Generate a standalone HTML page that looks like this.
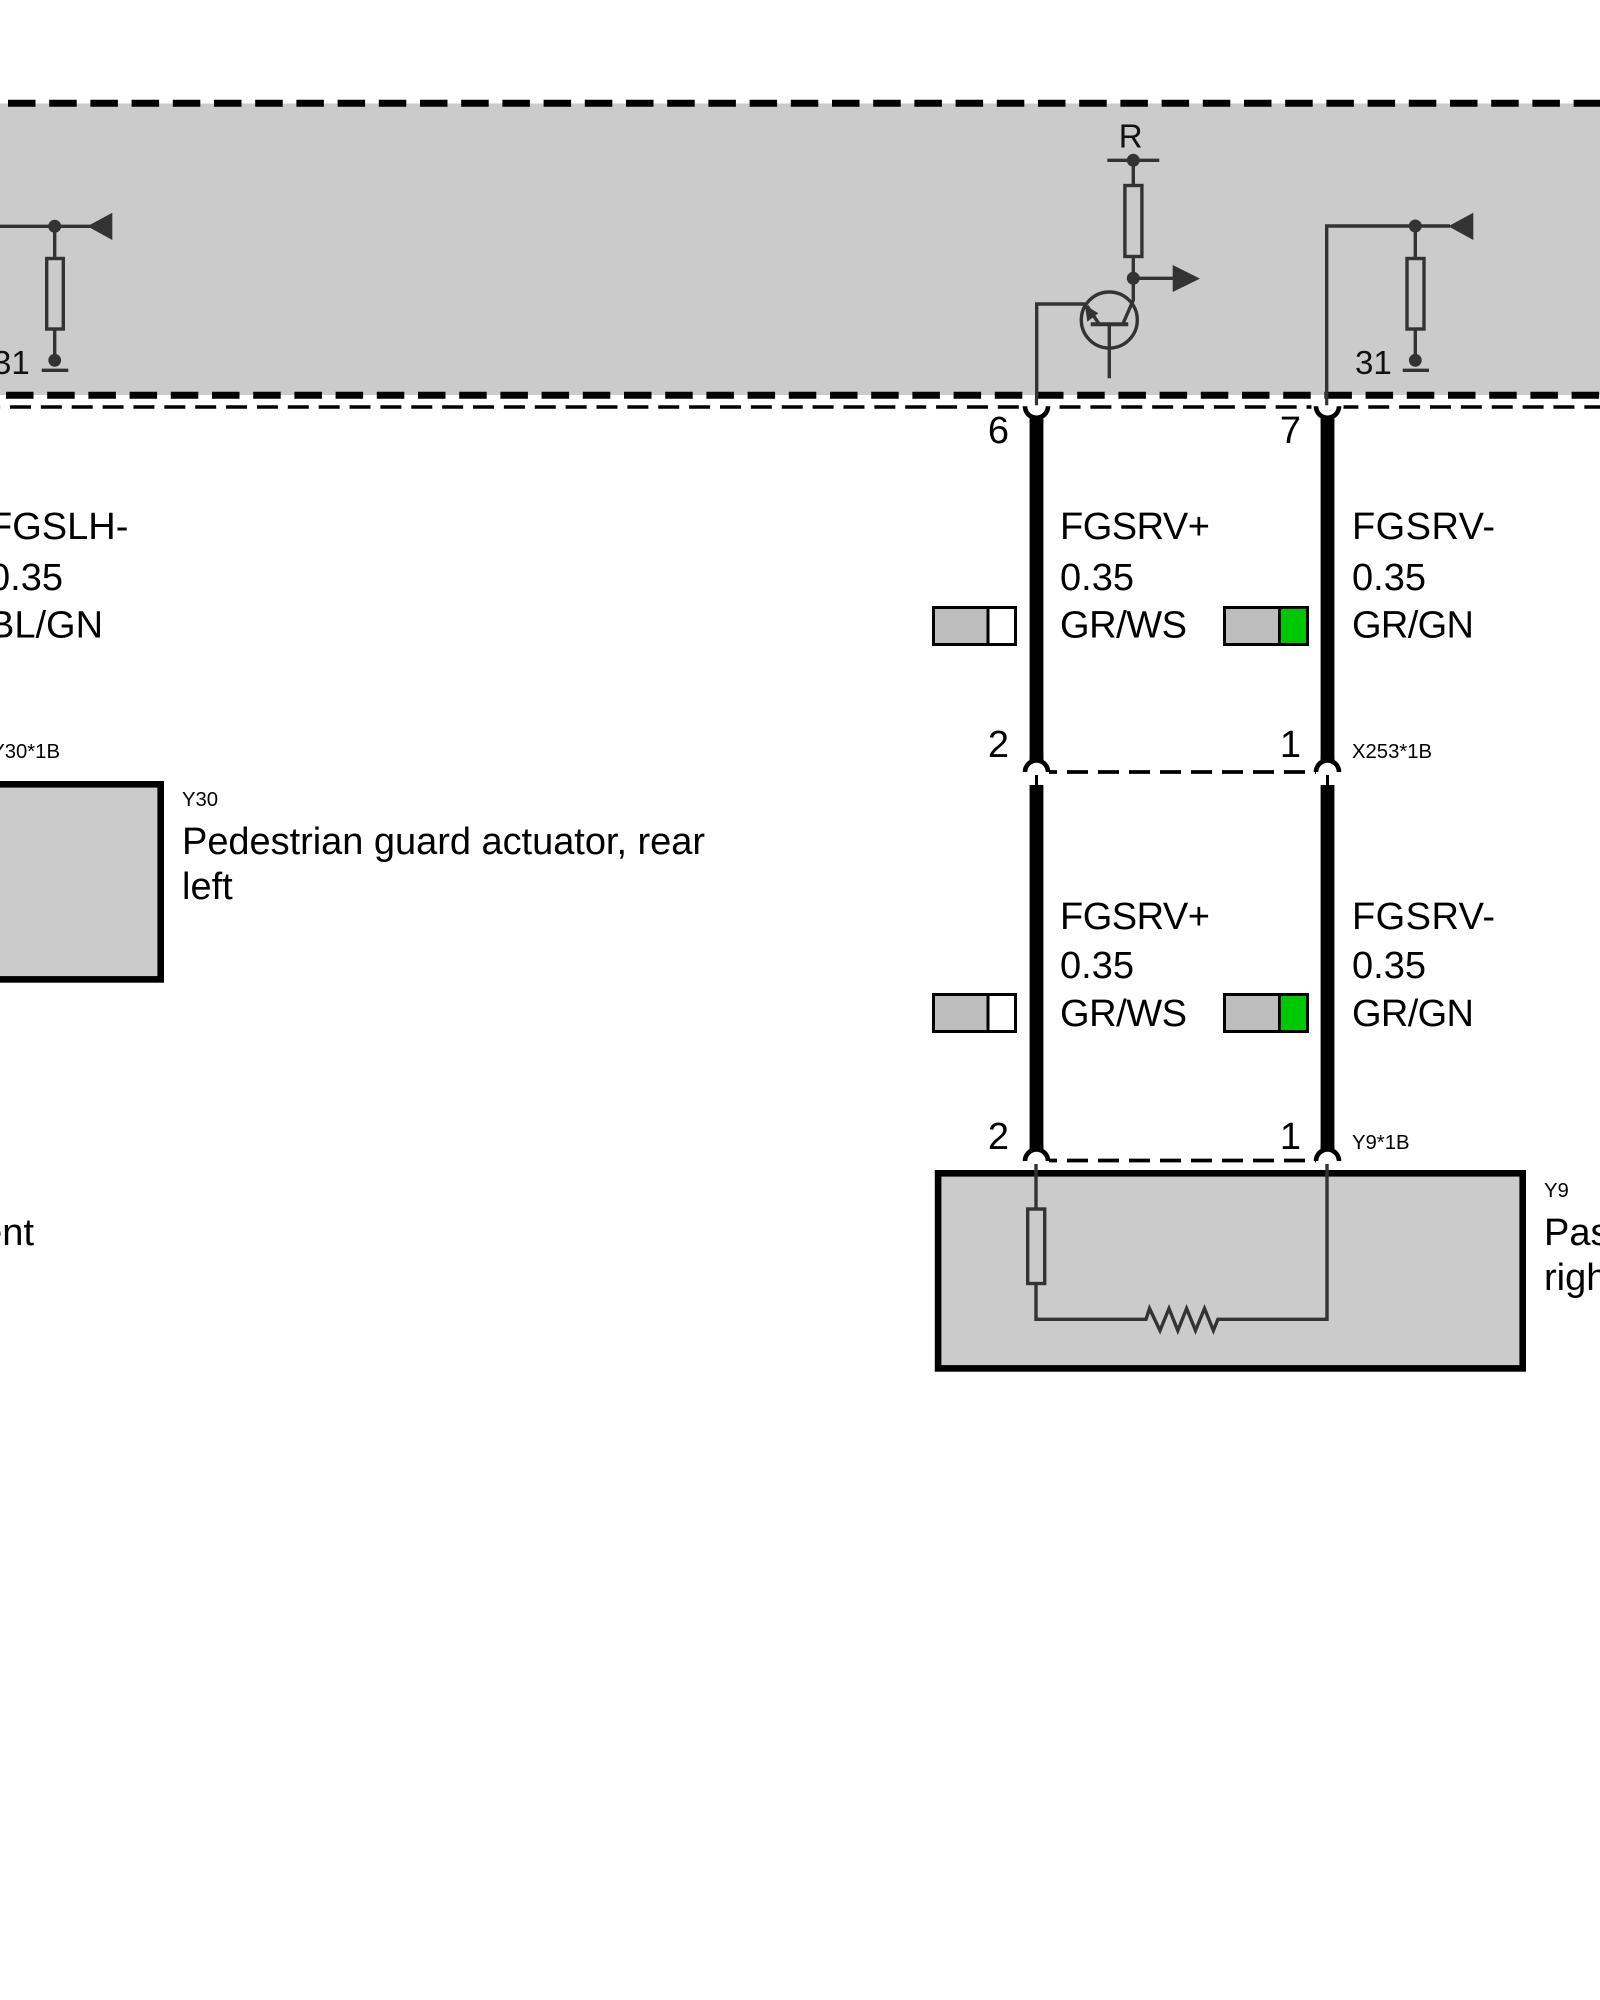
<!DOCTYPE html>
<html><head><meta charset="utf-8"><style>
html,body{margin:0;padding:0;background:#fff;width:1600px;height:2000px;overflow:hidden}
svg{display:block}
text{font-family:"Liberation Sans",Arial,sans-serif;fill:#000}
.d{fill:none;stroke:#333;stroke-width:3.4}
.f{fill:#333}
.r{fill:none;stroke:#333;stroke-width:3.4}
.w{font-size:38px}
.s{font-size:20.3px}
.t{font-size:33px;fill:#111}
.b{fill:#cbcbcb;stroke:#000;stroke-width:6.6}
.sw{stroke:#000;stroke-width:3}
</style></head><body>
<svg width="1600" height="2000" viewBox="0 0 1600 2000" xmlns="http://www.w3.org/2000/svg">
<rect x="0" y="103.5" width="1600" height="291.5" fill="#cbcbcb"/>
<line x1="-33.2" y1="103.3" x2="1600" y2="103.3" stroke="#000" stroke-width="7" stroke-dasharray="27.5 13.7"/>
<line x1="-35.2" y1="395.2" x2="1600" y2="395.2" stroke="#000" stroke-width="7" stroke-dasharray="27.5 13.7"/>
<line x1="-20.9" y1="407" x2="1600" y2="407" stroke="#000" stroke-width="3.6" stroke-dasharray="21 9.87"/>

<!-- left sub-circuit -->
<path class="d" d="M0 226.3H90M54.7 226.3V258M54.7 329V360"/>
<circle class="f" cx="54.7" cy="226.3" r="6.5"/>
<polygon class="f" points="87.3,226.3 112.3,212.7 112.3,240"/>
<rect class="r" x="46.7" y="258.5" width="16.6" height="70.5"/>
<circle class="f" cx="54.7" cy="360.3" r="6.4"/>
<line x1="41.7" y1="370.3" x2="68.3" y2="370.3" stroke="#333" stroke-width="3.4"/>
<text class="t" x="-7" y="374">31</text>

<!-- transistor sub-circuit -->
<text class="t" x="1130.7" y="147.3" text-anchor="middle">R</text>
<line x1="1107.3" y1="160.3" x2="1159.3" y2="160.3" stroke="#333" stroke-width="3.4"/>
<circle class="f" cx="1133.3" cy="160.3" r="6.5"/>
<path class="d" d="M1133.3 160V185M1133.3 257V300L1122.7 324.3M1133.3 278.3H1175"/>
<rect class="r" x="1124.9" y="185.5" width="17" height="71"/>
<circle class="f" cx="1133.3" cy="278.3" r="6.5"/>
<polygon class="f" points="1172.7,265 1200,278.6 1172.7,292"/>
<circle class="r" cx="1109.3" cy="320" r="28"/>
<line x1="1090.7" y1="324.3" x2="1128.3" y2="324.3" stroke="#333" stroke-width="4"/>
<path class="d" d="M1109.3 324V378.3M1087 306L1099.3 324.3M1085 304H1036.7V398"/>
<polygon class="f" points="1085,305 1087.3,321.7 1098.3,313.3"/>

<path class="d" d="M1326.7 398V226H1450M1415.3 226V258M1415.3 329V360"/>
<circle class="f" cx="1415.3" cy="226" r="6.5"/>
<polygon class="f" points="1448.3,226.3 1473.3,212.7 1473.3,240"/>
<rect class="r" x="1407" y="258.5" width="17" height="70.5"/>
<circle class="f" cx="1415.3" cy="360.3" r="6.4"/>
<line x1="1402.7" y1="370.3" x2="1429" y2="370.3" stroke="#333" stroke-width="3.4"/>
<text class="t" x="1355" y="374">31</text>

<!-- wires -->
<rect x="1029.6" y="420" width="13.8" height="340" fill="#000"/>
<rect x="1320.6" y="420" width="13.8" height="340" fill="#000"/>
<rect x="1029.6" y="785" width="13.8" height="366" fill="#000"/>
<rect x="1320.6" y="785" width="13.8" height="366" fill="#000"/>

<!-- connector top arcs (open upward) -->
<g transform="translate(1036.5 406.3)">
<rect x="-16" y="-2.5" width="32" height="5.5" fill="#fff"/>
<path d="M-13.8 0H-9.2A9.2 9.2 0 0 0 9.2 0H13.8A13.8 13.8 0 0 1 6.9 12V17H-6.9V12A13.8 13.8 0 0 1 -13.8 0Z" fill="#000"/>
<line x1="0" y1="-9" x2="0" y2="-1" stroke="#333" stroke-width="3.2"/>
</g>
<g transform="translate(1327.5 406.3)">
<rect x="-16" y="-2.5" width="32" height="5.5" fill="#fff"/>
<path d="M-13.8 0H-9.2A9.2 9.2 0 0 0 9.2 0H13.8A13.8 13.8 0 0 1 6.9 12V17H-6.9V12A13.8 13.8 0 0 1 -13.8 0Z" fill="#000"/>
<line x1="-0.8" y1="-9" x2="-0.8" y2="-1" stroke="#333" stroke-width="3.2"/>
</g>

<!-- mid connector -->
<line x1="1049" y1="772" x2="1316" y2="772" stroke="#000" stroke-width="3.8" stroke-dasharray="8 10 21 10 21 10 21 10 21 10 21 10 21 10 21 10 21 10 21 9"/>
<g transform="translate(1036.5 772)">
<path d="M-13.8 0H-9.2A9.2 9.2 0 0 1 9.2 0H13.8A13.8 13.8 0 0 0 6.9 -12V-16H-6.9V-12A13.8 13.8 0 0 0 -13.8 0Z" fill="#000"/>
</g>
<g transform="translate(1327.5 772)">
<path d="M-13.8 0H-9.2A9.2 9.2 0 0 1 9.2 0H13.8A13.8 13.8 0 0 0 6.9 -12V-16H-6.9V-12A13.8 13.8 0 0 0 -13.8 0Z" fill="#000"/>
</g>
<line x1="1036.5" y1="775" x2="1036.5" y2="786" stroke="#000" stroke-width="3"/>
<line x1="1327.5" y1="775" x2="1327.5" y2="786" stroke="#000" stroke-width="3"/>

<!-- bottom connector -->
<line x1="1049" y1="1160.5" x2="1316" y2="1160.5" stroke="#000" stroke-width="3.8" stroke-dasharray="8 10 21 10 21 10 21 10 21 10 21 10 21 10 21 10 21 10 21 9"/>
<g transform="translate(1036.5 1161)">
<path d="M-13.8 0H-9.2A9.2 9.2 0 0 1 9.2 0H13.8A13.8 13.8 0 0 0 6.9 -12V-16H-6.9V-12A13.8 13.8 0 0 0 -13.8 0Z" fill="#000"/>
</g>
<g transform="translate(1327.5 1161)">
<path d="M-13.8 0H-9.2A9.2 9.2 0 0 1 9.2 0H13.8A13.8 13.8 0 0 0 6.9 -12V-16H-6.9V-12A13.8 13.8 0 0 0 -13.8 0Z" fill="#000"/>
</g>

<!-- Y9 box -->
<rect class="b" x="938.1" y="1173.3" width="584.6" height="195.1"/>
<path class="d" d="M1036 1164V1208M1036 1284V1319.3H1146L1149.5 1308.5L1160 1330.5L1169 1308.5L1177.8 1330.5L1186.6 1308.5L1195.5 1330.5L1204.5 1308.5L1213.4 1330.5L1217.9 1319.3H1327V1164"/>
<rect class="r" x="1027.7" y="1209" width="17" height="74.5"/>

<!-- Y30 box -->
<rect class="b" x="-40" y="784.3" width="200.7" height="195.1"/>

<!-- colour swatches -->
<rect x="933.5" y="607.5" width="54.5" height="37" fill="#bdbdbd" class="sw"/>
<rect x="988" y="607.5" width="27.5" height="37" fill="#fff" class="sw"/>
<rect x="1224.5" y="607.5" width="55" height="37" fill="#bdbdbd" class="sw"/>
<rect x="1279.5" y="607.5" width="28" height="37" fill="#00c800" class="sw"/>
<rect x="933.5" y="994.5" width="54.5" height="37" fill="#bdbdbd" class="sw"/>
<rect x="988" y="994.5" width="27.5" height="37" fill="#fff" class="sw"/>
<rect x="1224.5" y="994.5" width="55" height="37" fill="#bdbdbd" class="sw"/>
<rect x="1279.5" y="994.5" width="28" height="37" fill="#00c800" class="sw"/>

<!-- labels -->
<text class="w" x="1009" y="443" text-anchor="end">6</text>
<text class="w" x="1301" y="443" text-anchor="end">7</text>
<text class="w" x="1009" y="757" text-anchor="end">2</text>
<text class="w" x="1301" y="757" text-anchor="end">1</text>
<text class="w" x="1009" y="1149" text-anchor="end">2</text>
<text class="w" x="1301" y="1149" text-anchor="end">1</text>

<text class="w" x="-11" y="539">FGSLH-</text>
<text class="w" x="-11" y="590">0.35</text>
<text class="w" x="-11" y="637.7">BL/GN</text>

<text class="w" x="1060" y="539" textLength="150">FGSRV+</text>
<text class="w" x="1060" y="590">0.35</text>
<text class="w" x="1060" y="637.7" textLength="127">GR/WS</text>
<text class="w" x="1352" y="539" textLength="143">FGSRV-</text>
<text class="w" x="1352" y="590">0.35</text>
<text class="w" x="1352" y="637.7" textLength="122">GR/GN</text>

<text class="w" x="1060" y="929" textLength="150">FGSRV+</text>
<text class="w" x="1060" y="978">0.35</text>
<text class="w" x="1060" y="1026" textLength="127">GR/WS</text>
<text class="w" x="1352" y="929" textLength="143">FGSRV-</text>
<text class="w" x="1352" y="978">0.35</text>
<text class="w" x="1352" y="1026" textLength="122">GR/GN</text>

<text class="s" x="1352" y="758">X253*1B</text>
<text class="s" x="1352" y="1149">Y9*1B</text>
<text class="s" x="60" y="758" text-anchor="end">Y30*1B</text>

<text class="s" x="182" y="806">Y30</text>
<text class="w" x="182" y="854" textLength="523">Pedestrian guard actuator, rear</text>
<text class="w" x="182" y="899">left</text>

<text class="w" x="34" y="1245" text-anchor="end">ent</text>

<text class="s" x="1544" y="1197">Y9</text>
<text class="w" x="1544" y="1245">Passenger</text>
<text class="w" x="1544" y="1290">right</text>
</svg>
</body></html>
